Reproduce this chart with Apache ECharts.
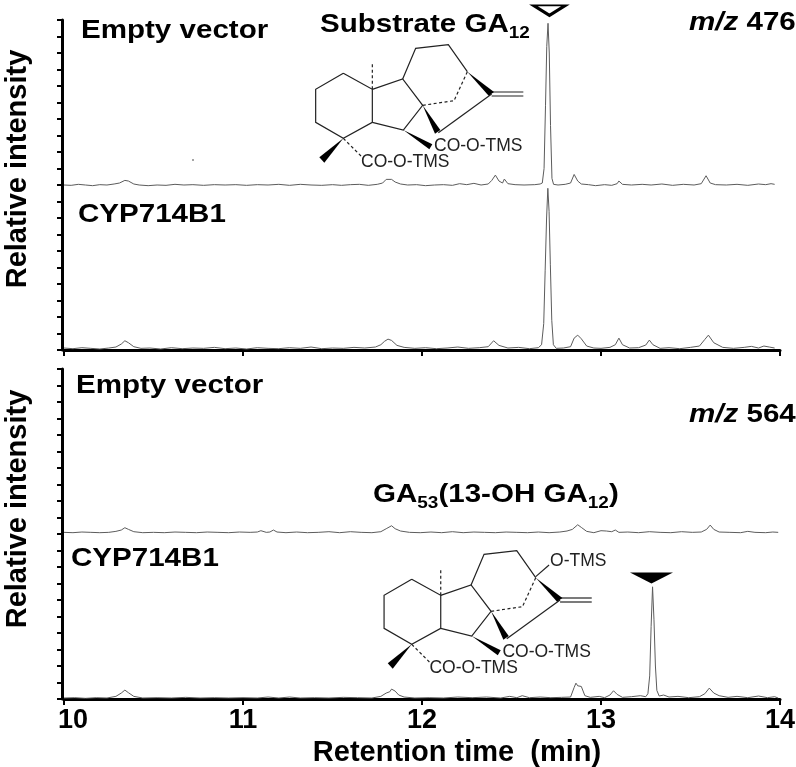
<!DOCTYPE html>
<html>
<head>
<meta charset="utf-8">
<title>m/z 476 and m/z 564 chromatograms</title>
<script src="https://cdn.jsdelivr.net/npm/echarts@6/dist/echarts.min.js"></script>
<style>
  html, body { margin: 0; padding: 0; background: #fff; }
  #chart { width: 796px; height: 767px; }
</style>
</head>
<body>
<div id="chart"></div>
<script>
// values: time in min, intensity in axis units (traces are stacked, 0-100 per panel)
const xTicks = [10, 11, 12, 13, 14]

// m/z 476, empty vector
const t476Empty = [10.00,10.04,10.08,10.12,10.16,10.20,10.24,10.28,10.31,10.34,10.36,10.39,10.42,10.47,10.52,10.57,10.62,10.67,10.72,10.78,10.84,10.90,10.96,11.02,11.08,11.14,11.20,11.26,11.32,11.38,11.44,11.50,11.55,11.60,11.65,11.70,11.75,11.78,11.80,11.83,11.85,11.88,11.92,11.97,12.02,12.07,12.12,12.17,12.21,12.25,12.29,12.33,12.37,12.39,12.41,12.43,12.45,12.46,12.48,12.52,12.57,12.63,12.66,12.672,12.682,12.690,12.697,12.704,12.711,12.718,12.726,12.735,12.76,12.80,12.83,12.85,12.87,12.89,12.93,12.97,13.02,13.06,13.09,13.10,13.12,13.17,13.23,13.28,13.34,13.40,13.46,13.52,13.56,13.587,13.61,13.64,13.70,13.76,13.82,13.88,13.92,13.95,13.97]
const y476Empty = [50.0,49.9,50.2,50.0,49.8,50.1,50.0,50.3,50.6,51.4,51.2,50.3,50.0,49.8,50.0,49.9,50.2,50.0,50.1,49.9,50.1,50.0,50.1,49.9,50.1,50.0,50.2,49.9,50.2,50.0,49.9,50.1,49.9,50.1,50.2,49.9,50.2,50.6,51.7,51.7,50.9,50.3,50.0,50.1,49.8,50.0,50.1,49.9,50.4,50.1,50.5,50.0,50.3,51.4,53.0,51.2,50.6,51.8,50.4,50.1,50.0,50.1,50.3,50.6,55.0,74.0,92.0,99.0,90.0,68.0,52.0,50.2,50.0,50.2,50.6,53.2,51.2,50.3,50.1,49.8,50.1,49.9,50.4,51.2,50.2,50.0,50.2,50.0,50.3,49.9,50.2,50.0,50.4,52.8,50.6,50.1,50.0,50.2,49.9,50.3,50.1,50.4,50.2]

// m/z 476, CYP714B1
const t476Cyp = [10.00,10.05,10.10,10.15,10.20,10.25,10.29,10.32,10.34,10.36,10.39,10.43,10.48,10.54,10.60,10.66,10.72,10.78,10.84,10.90,10.96,11.02,11.08,11.14,11.20,11.26,11.32,11.38,11.44,11.50,11.56,11.62,11.68,11.74,11.77,11.79,11.81,11.83,11.86,11.90,11.96,12.02,12.08,12.14,12.20,12.26,12.32,12.37,12.40,12.43,12.48,12.54,12.60,12.65,12.668,12.680,12.688,12.696,12.703,12.710,12.717,12.725,12.734,12.75,12.79,12.83,12.85,12.87,12.89,12.92,12.96,13.00,13.05,13.08,13.10,13.12,13.16,13.21,13.25,13.27,13.29,13.33,13.38,13.44,13.50,13.55,13.58,13.60,13.63,13.68,13.74,13.80,13.84,13.88,13.91,13.94,13.97]
const y476Cyp = [0.6,0.4,0.7,0.5,0.3,0.6,0.9,1.8,2.8,2.2,1.0,0.5,0.6,0.3,0.7,0.4,0.6,0.5,0.8,0.4,0.6,0.3,0.7,0.5,0.4,0.7,0.5,0.9,0.4,0.6,0.5,0.8,0.6,0.9,1.6,2.6,3.3,2.9,1.4,0.8,0.5,0.7,0.4,0.6,0.9,0.5,0.7,1.0,2.8,1.4,0.6,0.8,0.4,0.7,1.6,8.0,24.0,40.0,49.0,42.0,26.0,9.0,1.6,0.5,0.6,1.0,3.6,4.5,3.4,1.2,0.6,0.5,0.8,1.6,3.6,1.6,0.6,0.7,1.5,3.0,1.6,0.5,0.7,0.4,0.8,1.2,3.2,4.5,2.2,0.8,0.5,0.8,1.1,0.6,1.2,0.9,0.6]

// m/z 564, empty vector
const t564Empty = [10.00,10.05,10.10,10.15,10.20,10.25,10.29,10.32,10.34,10.36,10.39,10.44,10.50,10.56,10.62,10.68,10.74,10.80,10.86,10.92,10.98,11.04,11.08,11.10,11.13,11.15,11.17,11.19,11.24,11.30,11.36,11.42,11.48,11.54,11.60,11.66,11.72,11.77,11.80,11.83,11.85,11.88,11.93,11.99,12.05,12.11,12.17,12.23,12.29,12.35,12.41,12.47,12.53,12.59,12.65,12.71,12.77,12.81,12.84,12.87,12.89,12.92,12.96,13.00,13.01,13.03,13.04,13.06,13.08,13.10,13.15,13.21,13.27,13.33,13.39,13.45,13.51,13.56,13.59,13.61,13.63,13.66,13.72,13.78,13.82,13.86,13.92,13.96,13.99]
const y564Empty = [50.5,50.4,50.6,50.5,50.4,50.5,50.8,51.2,51.9,51.4,50.7,50.4,50.5,50.4,50.6,50.5,50.4,50.6,50.5,50.4,50.6,50.5,50.6,51.0,50.5,50.6,51.2,50.6,50.4,50.6,50.4,50.5,50.7,50.4,50.7,50.5,50.4,50.7,51.6,52.5,51.6,50.9,50.5,50.4,50.6,50.4,50.7,50.4,50.6,50.5,50.4,50.6,50.5,50.4,50.6,50.4,50.6,50.9,51.4,52.8,52.0,50.8,50.4,51.0,50.6,50.9,51.5,50.7,51.2,50.5,50.6,50.4,50.7,50.5,50.4,50.7,50.5,50.6,51.4,52.7,51.4,50.6,50.5,50.4,50.8,50.5,50.4,50.6,50.5]

// m/z 564, CYP714B1
const t564Cyp = [10.00,10.06,10.12,10.18,10.24,10.29,10.32,10.34,10.36,10.39,10.44,10.52,10.60,10.68,10.76,10.84,10.92,11.00,11.08,11.14,11.20,11.26,11.32,11.40,11.48,11.56,11.64,11.72,11.77,11.80,11.81,11.82,11.83,11.85,11.87,11.90,11.96,12.04,12.12,12.20,12.28,12.36,12.44,12.49,12.53,12.56,12.60,12.66,12.72,12.78,12.83,12.85,12.86,12.87,12.88,12.89,12.91,12.94,12.99,13.02,13.05,13.07,13.09,13.12,13.17,13.22,13.25,13.262,13.272,13.280,13.288,13.296,13.304,13.312,13.325,13.35,13.38,13.43,13.49,13.55,13.58,13.605,13.63,13.66,13.71,13.76,13.82,13.88,13.93,13.97,13.99]
const y564Cyp = [0.3,0.4,0.2,0.4,0.3,0.8,1.8,2.7,1.9,0.8,0.3,0.4,0.3,0.5,0.3,0.4,0.3,0.4,0.3,0.6,0.3,0.6,0.3,0.4,0.3,0.5,0.4,0.3,0.8,1.8,2.4,2.2,3.0,2.4,1.2,0.6,0.3,0.4,0.3,0.6,0.4,0.6,0.3,0.8,0.4,1.0,0.4,0.6,0.4,0.5,0.6,3.5,4.8,4.0,4.4,3.8,1.0,0.5,0.8,0.4,1.2,2.5,1.4,0.5,0.7,1.0,0.7,1.6,7.0,22.0,34.0,24.0,10.0,2.6,0.9,1.2,0.6,0.8,0.4,0.7,1.6,3.3,1.8,1.0,0.5,0.8,0.4,0.9,0.4,0.7,0.3]

// peak markers: retention time and height on the axis
const openMarker = [[12.712, 102.9]]
const filledMarker = [[13.282, 36.7]]

const zip = (t, y) => t.map((v, i) => [v, y[i]])
const FONT = '"Liberation Sans", Arial, sans-serif'
const INK = '#000'

function makeAxes(gridIndex, showLabels, nameShift) {
  return {
    x: {
      type: 'value', gridIndex, min: xTicks[0], max: xTicks[xTicks.length - 1], interval: 1,
      axisLine: { onZero: false, lineStyle: { color: INK, width: 3 } },
      axisTick: { length: 6, lineStyle: { color: INK, width: 2 } },
      splitLine: { show: false },
      axisLabel: {
        show: showLabels, color: INK, fontFamily: FONT, fontWeight: 'bold', fontSize: 27, margin: 8,
        // the first label sits to the right of its tick
        formatter: (v) => (v === xTicks[0] ? '{first|' + v + '}' : '' + v),
        rich: { first: { color: INK, fontFamily: FONT, fontWeight: 'bold', fontSize: 27, padding: [0, 0, 0, 18] } }
      },
      name: showLabels ? 'Retention time  (min)' : '',
      nameLocation: 'middle',
      nameGap: 39,
      nameTextStyle: { color: INK, fontFamily: FONT, fontWeight: 'bold', fontSize: 29, padding: [0, 0, 0, 70] }
    },
    y: {
      type: 'value', gridIndex, min: 0, max: 100, interval: 5, offset: 2,
      axisLine: { show: true, lineStyle: { color: INK, width: 3 } },
      axisTick: { show: true, length: 5, lineStyle: { color: INK, width: 2 } },
      splitLine: { show: false },
      axisLabel: { show: false },
      name: 'Relative intensity',
      nameLocation: 'middle',
      nameGap: 30,
      nameRotate: 90,
      nameTextStyle: { color: INK, fontFamily: FONT, fontWeight: 'bold', fontSize: 29, padding: [0, 0, 0, nameShift] }
    }
  }
}

function trace(data, gridIndex) {
  return {
    type: 'line', data, xAxisIndex: gridIndex, yAxisIndex: gridIndex,
    symbol: 'none', silent: true,
    lineStyle: { color: '#5c5c5c', width: 1 }
  }
}

function marker(data, gridIndex, size, fill, borderWidth) {
  return {
    type: 'scatter', data, xAxisIndex: gridIndex, yAxisIndex: gridIndex, clip: false, silent: true,
    symbol: 'path://M0 0L40 0L20 12Z', symbolSize: size,
    itemStyle: { color: fill, opacity: 1, borderColor: INK, borderWidth }
  }
}

// bold annotation text, slightly wider than tall like the scanned lettering
function label(text, x, y, rich) {
  return {
    type: 'text', x, y, scaleX: 1.115, silent: true,
    style: {
      text, rich, fill: INK, font: 'bold 26.5px ' + FONT,
      verticalAlign: 'middle'
    }
  }
}

const subRich = {
  b: { fontFamily: FONT, fontWeight: 'bold', fontSize: 26.5, lineHeight: 34, fill: INK, color: INK },
  s: { fontFamily: FONT, fontWeight: 'bold', fontSize: 17, lineHeight: 34, fill: INK, color: INK, verticalAlign: 'bottom', padding: [10, 0, 0, 0] },
  i: { fontFamily: FONT, fontWeight: 'bold', fontStyle: 'italic', fontSize: 26.5, lineHeight: 34, fill: INK, color: INK }
}

// skeletal formula, coordinates are 3x pixels from the top left of the drawing
function molecule(x, y, withHydroxyl) {
  const p = (pts) => pts.map((q) => [q[0] / 3, q[1] / 3])
  const line = (pts, dashed) => ({
    type: 'polyline', silent: true, shape: { points: p(pts) },
    style: { stroke: '#222', lineWidth: 1.2, fill: null, lineDash: dashed ? [3, 2.5] : null }
  })
  const wedge = (pts) => ({
    type: 'polygon', silent: true, shape: { points: p(pts) }, style: { fill: '#000' }
  })
  const tag = (text, tx, ty) => ({
    type: 'text', silent: true, x: tx / 3, y: ty / 3,
    style: { text, fill: '#222', font: '17.5px ' + FONT, verticalAlign: 'middle' }
  })
  const children = [
    line([[130, 130], [217, 178], [217, 277], [130, 325], [47, 277], [47, 178], [130, 130]]),
    line([[217, 178], [217, 95]], true),
    line([[217, 178], [308, 147], [368, 226], [310, 300], [217, 277]]),
    line([[308, 147], [347, 55], [445, 44], [502, 125]]),
    line([[502, 125], [462, 212], [368, 226]], true),
    line([[575, 192], [415, 308]]),
    line([[575, 186], [670, 186]]),
    line([[575, 198], [670, 198]]),
    line([[130, 325], [185, 380]], true),
    wedge([[502, 125], [582, 186], [566, 197]]),
    wedge([[368, 226], [421, 300], [405, 311]]),
    wedge([[310, 300], [397, 343], [388, 358]]),
    wedge([[130, 325], [73, 398], [58, 382]]),
    tag('CO-O-TMS', 402, 348),
    tag('CO-O-TMS', 183, 396)
  ]
  if (withHydroxyl) {
    children.push(line([[502, 122], [542, 87]]))
    children.push(tag('O-TMS', 545, 75))
  }
  return { type: 'group', x, y, children }
}

const upper = makeAxes(0, false, 32)
const lower = makeAxes(1, true, 50)

const option = {
  animation: false,
  backgroundColor: '#fff',
  grid: [
    { left: 64, right: 16, top: 20, height: 330, outerBoundsMode: 'none' },
    { left: 64, right: 16, top: 369, height: 330, outerBoundsMode: 'none' }
  ],
  xAxis: [upper.x, lower.x],
  yAxis: [upper.y, lower.y],
  series: [
    trace(zip(t476Empty, y476Empty), 0),
    trace(zip(t476Cyp, y476Cyp), 0),
    trace(zip(t564Empty, y564Empty), 1),
    trace(zip(t564Cyp, y564Cyp), 1),
    marker(openMarker, 0, [32, 10], '#fff', 3),
    marker(filledMarker, 1, [43, 11], '#000', 0)
  ],
  graphic: [
    label('Empty vector', 81, 31),
    label('{b|Substrate GA}{s|12}', 320, 25, subRich),
    label('{i|m/z} {b|476}', 689, 23, subRich),
    label('CYP714B1', 78, 215),
    label('Empty vector', 76, 386),
    label('{i|m/z} {b|564}', 689, 415, subRich),
    label('{b|GA}{s|53}{b|(13-OH GA}{s|12}{b|)}', 373, 495, subRich),
    label('CYP714B1', 71, 559),
    molecule(300, 30, false),
    molecule(368.4, 536, true),
    { type: 'circle', silent: true, shape: { cx: 193, cy: 160, r: 0.8 }, style: { fill: '#333' } }
  ]
}

const myChart = echarts.init(document.getElementById('chart'))
myChart.setOption(option)
</script>
</body>
</html>
